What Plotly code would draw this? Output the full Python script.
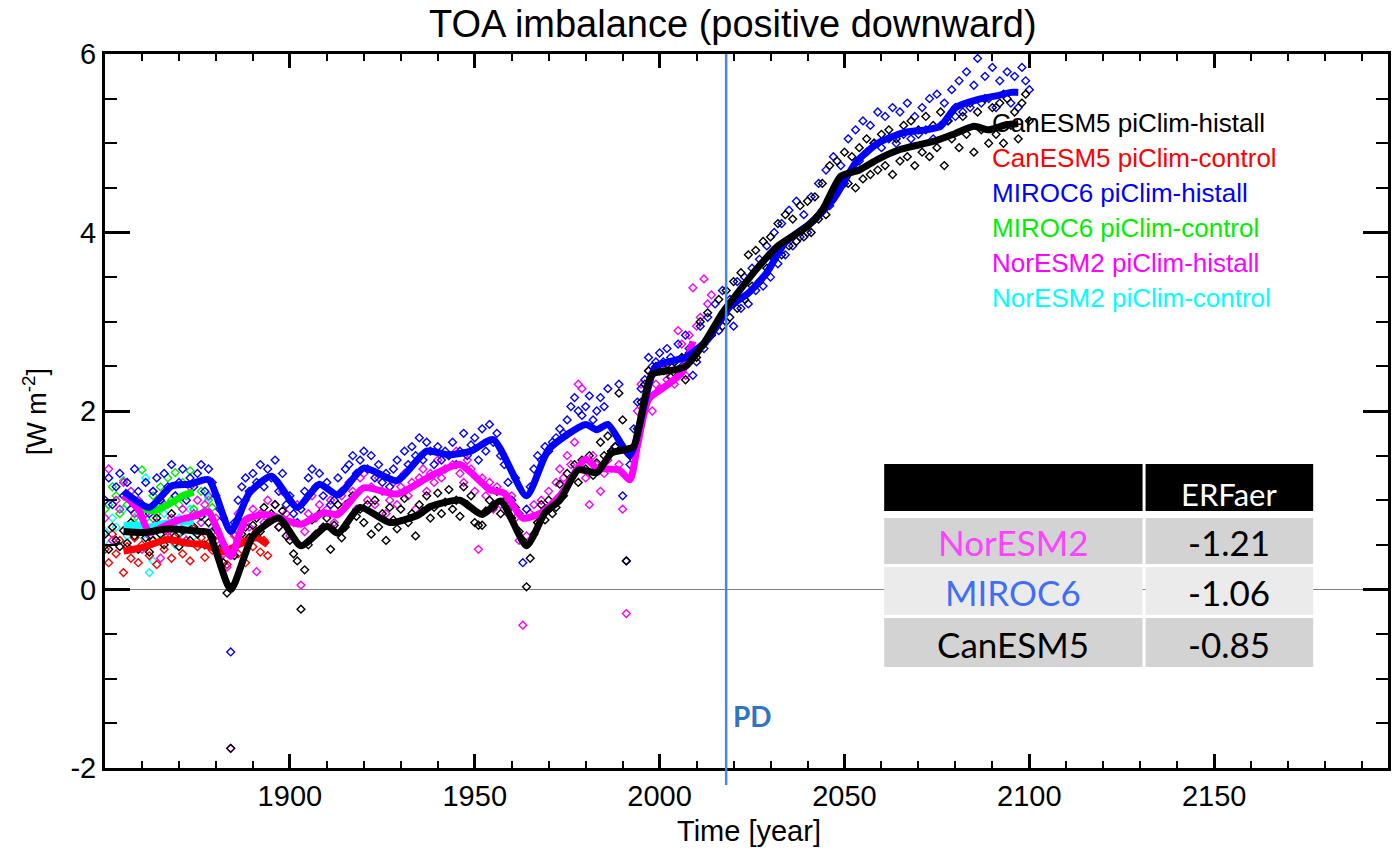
import plotly.graph_objects as go

# ---------------- data ----------------
start_year = 1850

can_hist_pts = [
    0.62, 0.45, 0.70, 0.55, 0.48, 0.66, 0.52, 0.75, 0.60, 0.45,
    0.70, 0.58, 0.42, 0.55, 0.80, 0.62, 0.50, 0.72, 0.85, 0.60,
    0.48, 0.66, 0.78, 0.55, 0.70, 0.62, 0.82, 0.50, 0.75, 0.58,
    0.68, 0.45, 0.30, -0.04, -1.78, 0.38, 0.55, 0.62, 0.70, 0.58,
    0.72, 0.80, 0.65, 0.92, 0.75, 0.85, 0.95, 0.70, 0.88, 0.60,
    0.55, 0.40, 0.32, -0.22, 0.22, 0.50, 0.78, 0.62, 0.85, 0.70,
    0.80, 0.45, 0.72, 0.95, 0.58, 0.70, 0.98, 1.05, 0.82, 0.90,
    0.75, 0.95, 0.62, 1.00, 0.70, 0.85, 0.55, 0.92, 0.78, 0.68,
    0.90, 1.02, 0.75, 0.85, 0.60, 0.95, 0.88, 1.05, 0.80, 0.92,
    1.08, 0.85, 0.98, 1.12, 0.90, 1.00, 0.82, 1.15, 0.95, 1.05,
    0.75, 0.72, 0.72, 0.88, 1.00, 0.92, 1.10, 0.85, 0.98, 0.90,
    0.80, 0.92, 0.65, 0.55, 0.03, 0.35, 0.62, 0.75, 0.95, 0.78,
    1.00, 0.85, 0.92, 1.18, 1.05, 1.30, 1.25, 1.40, 1.20, 1.45,
    1.35, 1.50, 1.28, 1.42, 1.65, 1.50, 1.72, 1.55, 1.60, 2.20,
    1.90, 0.32, 1.50, 1.55, 1.80, 2.10, 2.30, 2.45, 2.42, 2.50,
    2.45, 2.48, 2.52, 2.38, 2.55, 2.40, 2.60, 2.35, 2.65, 2.70,
    2.60, 3.00, 2.75, 3.10, 2.85, 2.95, 3.25, 2.95, 3.35, 3.05,
    3.45, 3.15, 3.55, 3.25, 3.75, 3.40, 3.80, 3.45, 3.90, 3.60,
    3.95, 3.70, 4.10, 3.75, 4.20, 3.85, 4.15, 3.90, 4.30, 3.95,
    4.35, 4.00, 4.40, 4.15, 4.55, 4.20, 4.75, 4.45, 4.80, 4.55,
    4.90, 4.55, 4.85, 4.50, 4.95, 4.60, 5.05, 4.65, 5.00, 4.70,
    5.10, 4.75, 5.15, 4.65, 5.05, 4.80, 5.20, 4.85, 5.25, 4.75,
    5.15, 4.90, 5.30, 4.85, 5.20, 4.95, 5.35, 4.75, 5.25, 5.05,
    5.40, 4.95, 5.30, 5.10, 5.45, 4.90, 5.35, 5.15, 5.50, 5.00,
    5.40, 5.10, 5.45, 5.00, 5.50, 5.20, 5.35, 5.05, 5.45, 5.55, 5.25,
]

miroc_hist_pts = [
    1.00, 1.25, 0.95, 1.15, 1.30, 1.05, 1.20, 0.90, 1.35, 1.10,
    0.95, 1.20, 0.85, 1.10, 1.25, 1.00, 1.30, 1.15, 1.40, 1.05,
    1.20, 1.35, 1.00, 1.25, 1.15, 1.30, 1.40, 1.10, 1.35, 1.20,
    1.05, 0.90, 0.80, 0.45, -0.70, 0.75, 1.00, 1.15, 1.25, 1.10,
    1.30, 1.20, 1.40, 1.15, 1.35, 1.25, 1.45, 1.10, 1.30, 0.95,
    1.05, 0.85, 0.75, 0.90, 1.10, 1.25, 1.35, 1.15, 1.30, 1.05,
    1.20, 0.95, 1.00, 1.25, 1.10, 1.35, 1.40, 1.50, 1.30, 1.45,
    1.55, 1.35, 1.50, 1.25, 1.40, 1.20, 1.30, 1.15, 1.35, 1.45,
    1.25, 1.55, 1.40, 1.60, 1.50, 1.70, 1.45, 1.65, 1.55, 1.40,
    1.60, 1.45, 1.55, 1.50, 1.65, 1.40, 1.55, 1.75, 1.50, 1.62,
    1.70, 1.45, 1.80, 1.55, 1.85, 1.65, 1.75, 1.50, 1.40, 1.20,
    1.00, 1.25, 0.85, 0.30, 0.90, 1.15, 1.35, 1.50, 1.45, 1.60,
    1.55, 1.65, 1.70, 1.80, 1.75, 1.90, 2.05, 2.15, 2.00, 1.95,
    2.05, 2.17, 1.90, 2.00, 2.15, 2.05, 2.25, 1.55, 1.60, 2.30,
    1.05, 0.32, 1.40, 1.80, 2.10, 2.25, 2.35, 2.60, 2.50, 2.55,
    2.65, 2.55, 2.70, 2.60, 2.55, 2.75, 2.50, 2.85, 2.70, 2.40,
    2.55, 2.95, 2.70, 3.05, 2.85, 3.20, 2.90, 3.35, 3.00, 3.25,
    2.95, 3.45, 3.15, 3.50, 3.20, 3.60, 3.35, 3.70, 3.40, 3.85,
    3.50, 4.00, 3.65, 4.10, 3.75, 4.25, 3.85, 4.35, 3.95, 4.20,
    4.00, 4.40, 4.15, 4.55, 4.25, 4.70, 4.30, 4.85, 4.50, 4.75,
    4.55, 5.05, 4.70, 5.15, 4.80, 5.25, 4.90, 5.20, 5.00, 5.35,
    4.95, 5.30, 5.05, 5.40, 5.00, 5.35, 5.10, 5.45, 5.05, 5.30,
    5.10, 5.40, 5.15, 5.50, 5.05, 5.55, 5.20, 5.45, 5.25, 5.60,
    5.30, 5.70, 5.35, 5.80, 5.40, 5.65, 5.95, 5.45, 5.75, 5.50,
    5.85, 5.40, 5.70, 5.55, 5.80, 5.45, 5.75, 5.40, 5.85, 5.70, 5.60,
]

nor_hist_pts = [
    0.80, 1.35, 0.55, 1.00, 0.90, 1.20, 0.70, 1.10, 0.85, 1.00,
    0.45, 0.85, 0.60, 1.10, 0.75, 0.35, 0.95, 0.65, 0.80, 1.05,
    0.70, 0.90, 0.55, 1.15, 0.85, 1.00, 0.75, 0.95, 1.05, 0.65,
    0.80, 0.50, 0.40, 0.25, -1.78, 0.60, 0.85, 0.75, 1.00, 0.70,
    0.90, 0.20, 0.85, 0.75, 1.00, 0.80, 0.95, 0.70, 1.10, 0.85,
    0.60, 0.75, 0.95, 0.05, 0.65, 0.85, 1.05, 0.80, 0.95, 0.70,
    0.90, 1.00, 0.75, 0.85, 1.05, 0.95, 1.20, 1.10, 0.90, 1.25,
    1.30, 1.00, 1.15, 0.95, 1.25, 1.10, 0.85, 1.00, 1.20, 0.95,
    1.15, 1.30, 1.05, 1.20, 0.90, 1.25, 1.35, 1.10, 1.30, 1.20,
    1.45, 1.25, 1.35, 1.50, 1.40, 1.55, 1.30, 1.20, 1.45, 1.35,
    1.10, 0.45, 1.25, 1.05, 1.20, 0.90, 1.15, 0.95, 1.00, 0.85,
    1.05, 0.80, 0.55, -0.40, 0.60, 0.85, 0.95, 0.75, 1.00, 0.90,
    1.10, 0.95, 1.20, 1.35, 1.25, 1.50, 1.40, 1.65, 2.30, 2.25,
    1.25, 0.95, 1.50, 1.40, 1.10, 1.30, 1.45, 1.55, 1.60, 1.40,
    0.90, -0.27, 1.25, 1.60, 2.00, 2.30, 2.10, 2.45, 2.00, 2.30,
    2.25, 2.45, 2.35, 2.50, 2.30, 2.90, 2.75, 2.40, 2.85, 3.38,
    2.95, 3.05, 3.48, 3.20, 3.30,
]

can_ctrl_pts = [
    0.45, 0.30, 0.62, 0.40, 0.55, 0.19, 0.48, 0.35, 0.58, 0.30,
    0.50, 0.65, 0.38, 0.55, 0.28, 0.70, 0.45, 0.60, 0.35, 0.52,
    0.62, 0.40, 0.55, 0.32, 0.68, 0.48, 0.58, 0.36, 0.52, 0.44,
    0.60, 0.35, 0.50, 0.28, 0.45, 0.62, 0.40, 0.55, 0.30, 0.58,
    0.48, 0.65, 0.42, 0.55, 0.38,
]

miroc_ctrl_pts = [
    0.90, 0.95, 1.15, 1.05, 0.85, 1.22, 0.95, 1.10, 0.80, 1.00,
    1.34, 0.90, 0.75, 1.05, 0.85, 1.15, 0.95, 1.25, 1.00, 1.31,
    0.95, 1.20, 1.05, 1.33, 0.90, 0.84, 1.10, 0.88, 1.00, 0.92,
]

nor_ctrl_pts = [
    0.65, 0.50, 0.80, 0.70, 0.55, 0.90, 0.60, 0.45, 0.75, 0.85,
    0.60, 1.25, 0.19, 0.32, 0.70, 0.55, 0.85, 0.65, 0.75, 0.50,
    0.80, 0.60, 0.70, 0.90, 0.65, 0.55, 0.75, 0.85, 1.03, 0.70,
]

# smoothed curves
can_hist_line_x = [1855, 1861, 1867, 1876, 1878, 1884, 1890, 1897, 1903, 1910, 1913, 1919,
                   1927, 1935, 1938, 1946, 1952, 1957, 1964, 1969, 1973, 1978, 1983, 1987,
                   1991, 1993, 1998, 2004, 2007, 2012, 2017, 2019, 2026, 2032, 2040, 2044,
                   2049, 2054, 2059, 2065, 2074, 2080, 2085, 2089, 2094, 2097]
can_hist_line_y = [0.65, 0.64, 0.68, 0.65, 0.64, 0.0, 0.6, 0.8, 0.49, 0.71, 0.63, 0.92,
                   0.75, 0.84, 0.93, 1.0, 0.84, 0.99, 0.49, 0.86, 1.0, 1.34, 1.31, 1.53,
                   1.57, 1.6, 2.41, 2.46, 2.5, 2.76, 3.1, 3.21, 3.58, 3.85, 4.07, 4.25,
                   4.63, 4.7, 4.82, 4.93, 5.02, 5.11, 5.19, 5.15, 5.21, 5.22]

miroc_hist_line_x = [1855, 1862, 1868, 1873, 1878, 1884, 1889, 1895, 1902, 1908, 1913, 1920,
                     1929, 1937, 1943, 1949, 1955, 1964, 1970, 1980, 1983, 1986, 1992, 1999,
                     2007, 2013, 2019, 2024, 2029, 2034, 2041, 2047, 2053, 2059, 2066, 2072,
                     2076, 2080, 2086, 2091, 2095, 2097]
miroc_hist_line_y = [1.10, 0.92, 1.16, 1.18, 1.23, 0.65, 1.08, 1.27, 0.92, 1.18, 1.06, 1.36,
                     1.22, 1.55, 1.51, 1.55, 1.68, 1.05, 1.57, 1.85, 1.79, 1.85, 1.51, 2.5,
                     2.6, 2.8, 3.17, 3.32, 3.55, 3.89, 4.11, 4.37, 4.78, 5.0, 5.12, 5.15,
                     5.19, 5.4, 5.49, 5.53, 5.57, 5.57]

nor_hist_line_x = [1855, 1859, 1862, 1866, 1870, 1874, 1878, 1880, 1884, 1888, 1893, 1896,
                   1903, 1909, 1913, 1920, 1929, 1938, 1946, 1954, 1958, 1963, 1968, 1973,
                   1980, 1983, 1989, 1992, 1994, 1997, 2001, 2006, 2009]
nor_hist_line_y = [1.06, 0.90, 0.64, 0.71, 0.78, 0.82, 0.87, 0.71, 0.37, 0.78, 0.84, 0.82,
                   0.73, 0.86, 0.84, 1.14, 1.07, 1.27, 1.40, 1.12, 1.08, 0.80, 0.86, 1.05,
                   1.46, 1.36, 1.34, 1.23, 1.61, 2.13, 2.26, 2.43, 2.78]

can_ctrl_line_x = [1855, 1860, 1867, 1872, 1877, 1882, 1886, 1891, 1894]
can_ctrl_line_y = [0.43, 0.47, 0.56, 0.52, 0.50, 0.42, 0.50, 0.58, 0.50]

miroc_ctrl_line_x = [1855, 1859, 1863, 1867, 1871, 1874]
miroc_ctrl_line_y = [1.05, 0.94, 0.88, 0.95, 1.05, 1.09]

nor_ctrl_line_x = [1855, 1859, 1862, 1866, 1870, 1874]
nor_ctrl_line_y = [0.72, 0.72, 0.70, 0.74, 0.76, 0.76]

legend_labels = ["CanESM5 piClim-histall", "CanESM5 piClim-control", "MIROC6 piClim-histall",
                 "MIROC6 piClim-control", "NorESM2 piClim-histall", "NorESM2 piClim-control"]
legend_colors = ["#000000", "#ff0000", "#0000ff", "#00ee00", "#ff00ff", "#00ffff"]

table_header = "ERFaer"
table_models = ["NorESM2", "MIROC6", "CanESM5"]
table_values = ["-1.21", "-1.06", "-0.85"]
table_model_colors = ["#ff44ff", "#3f6ff5", "#000000"]
table_row_fills = ["#d3d3d3", "#ebebeb", "#d3d3d3"]

pd_year = 2018
x_ticks = [1900, 1950, 2000, 2050, 2100, 2150]
y_ticks = [-2, 0, 2, 4, 6]
y_tick_text = ["-2", "0", "2", "4", "6"]

# ---------------- layout geometry ----------------
FW, FH = 1392, 852
ML, MR, MT, MB = 105, 1, 54, 84
PW = FW - ML - MR
PH = FH - MT - MB


def px(x):
    return (x - ML) / PW


def py(y):
    return 1 - (y - MT) / PH


FONT = "Liberation Sans, Arial, sans-serif"
TFONT = "Lato, Open Sans, sans-serif"

fig = go.Figure()

point_series = [
    (nor_ctrl_pts, "#00ffff"),
    (miroc_ctrl_pts, "#00ee00"),
    (can_ctrl_pts, "#ff0000"),
    (nor_hist_pts, "#ff00ff"),
    (miroc_hist_pts, "#0000ff"),
    (can_hist_pts, "#000000"),
]
for vals, col in point_series:
    fig.add_trace(go.Scatter(
        x=list(range(start_year, start_year + len(vals))), y=vals, mode="markers",
        marker=dict(symbol="diamond-open", size=6, color=col, line=dict(width=1.4, color=col)),
        hoverinfo="skip"))

line_series = [
    (nor_ctrl_line_x, nor_ctrl_line_y, "#00ffff"),
    (miroc_ctrl_line_x, miroc_ctrl_line_y, "#00ee00"),
    (can_ctrl_line_x, can_ctrl_line_y, "#ff0000"),
    (nor_hist_line_x, nor_hist_line_y, "#ff00ff"),
    (miroc_hist_line_x, miroc_hist_line_y, "#0000ff"),
    (can_hist_line_x, can_hist_line_y, "#000000"),
]
for xs, ys, col in line_series:
    fig.add_trace(go.Scatter(x=xs, y=ys, mode="lines",
                             line=dict(color=col, width=7, shape="spline", smoothing=0.6),
                             hoverinfo="skip"))

shapes = []
# PD line
shapes.append(dict(type="line", xref="x", yref="paper", x0=pd_year, x1=pd_year,
                   y0=py(785), y1=1, line=dict(color="#4a86e8", width=2.5), layer="above"))
# table
col_l = (886, 1145)
col_r = (1148, 1316)
rows_y = [(464, 511), (518, 564), (567, 615), (618, 667)]
fills = ["#000000"] + table_row_fills
for (y0, y1), f in zip(rows_y, fills):
    for (x0, x1) in (col_l, col_r):
        shapes.append(dict(type="rect", xref="paper", yref="paper",
                           x0=px(x0), x1=px(x1), y0=py(y1), y1=py(y0),
                           fillcolor=f, line=dict(width=0), layer="above"))

annotations = []
annotations.append(dict(text="TOA imbalance (positive downward)", xref="paper", yref="paper",
                        x=px(734), y=py(24), xanchor="center", yanchor="middle", showarrow=False,
                        font=dict(family=FONT, size=38, color="black")))
annotations.append(dict(text="Time [year]", xref="paper", yref="paper",
                        x=px(751), y=py(831), xanchor="center", yanchor="middle", showarrow=False,
                        font=dict(family=FONT, size=29, color="black")))
annotations.append(dict(text="[W m<sup>-2</sup>]", xref="paper", yref="paper", textangle=-90,
                        x=px(35), y=py(412), xanchor="center", yanchor="middle", showarrow=False,
                        font=dict(family=FONT, size=27, color="black")))
annotations.append(dict(text="<b>PD</b>", xref="paper", yref="paper",
                        x=px(732), y=py(716), xanchor="left", yanchor="middle", showarrow=False,
                        font=dict(family=TFONT, size=28, color="#2e74c0")))
leg_y = [123, 158, 193, 228, 263, 298]
for lab, col, yy in zip(legend_labels, legend_colors, leg_y):
    annotations.append(dict(text=lab, xref="paper", yref="paper", x=px(992), y=py(yy),
                            xanchor="left", yanchor="middle", showarrow=False,
                            font=dict(family=FONT, size=26, color=col)))
annotations.append(dict(text=table_header, xref="paper", yref="paper",
                        x=px((col_r[0] + col_r[1]) / 2), y=py(494), xanchor="center",
                        yanchor="middle", showarrow=False,
                        font=dict(family=TFONT, size=31, color="white")))
for i, (m, v, c) in enumerate(zip(table_models, table_values, table_model_colors)):
    yc = (rows_y[i + 1][0] + rows_y[i + 1][1]) / 2 + 1
    annotations.append(dict(text=m, xref="paper", yref="paper",
                            x=px((col_l[0] + col_l[1]) / 2), y=py(yc), xanchor="center",
                            yanchor="middle", showarrow=False,
                            font=dict(family=TFONT, size=35, color=c)))
    annotations.append(dict(text=v, xref="paper", yref="paper",
                            x=px((col_r[0] + col_r[1]) / 2), y=py(yc), xanchor="center",
                            yanchor="middle", showarrow=False,
                            font=dict(family=TFONT, size=35, color="black")))

fig.update_layout(
    width=FW, height=FH, margin=dict(l=ML, r=MR, t=MT, b=MB),
    paper_bgcolor="white", plot_bgcolor="white", showlegend=False,
    shapes=shapes, annotations=annotations,
    xaxis=dict(range=[1850, 2197], tickvals=x_ticks, ticks="inside", ticklen=14, tickwidth=2.5,
               tickcolor="black", showline=True, linewidth=3, linecolor="black", mirror="ticks",
               showgrid=False, zeroline=False,
               tickfont=dict(family=FONT, size=29, color="black"),
               minor=dict(dtick=10, tick0=1850, ticks="inside", ticklen=7, tickwidth=2,
                          tickcolor="black", showgrid=False)),
    yaxis=dict(range=[-2, 6], tickvals=y_ticks, ticktext=y_tick_text, ticks="inside",
               ticklen=25, tickwidth=2.5,
               tickcolor="black", showline=True, linewidth=3, linecolor="black", mirror="ticks",
               showgrid=False, zeroline=True, zerolinecolor="#808080", zerolinewidth=1,
               tickfont=dict(family=FONT, size=29, color="black"),
               minor=dict(dtick=0.5, tick0=0, ticks="inside", ticklen=12, tickwidth=2,
                          tickcolor="black", showgrid=False)),
)

fig.write_html("out.html")
